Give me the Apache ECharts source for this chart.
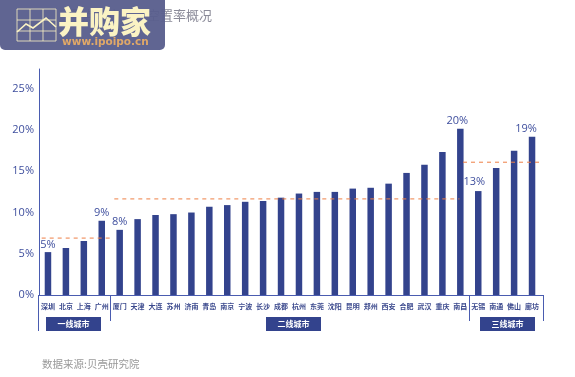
<!DOCTYPE html>
<html><head><meta charset="utf-8">
<style>html,body{margin:0;padding:0;background:#fff}#c{width:575px;height:377px}</style>
<script src="https://cdn.jsdelivr.net/npm/echarts@6/dist/echarts.min.js"></script>
</head><body><div id="c"></div>
<script>
const cities = ['深圳','北京','上海','广州','厦门','天津','大连','苏州','济南','青岛','南京','宁波','长沙','成都','杭州','东莞','沈阳','昆明','郑州','西安','合肥','武汉','重庆','南昌','无锡','南通','佛山','廊坊'];
const vacancy = [5.2,5.7,6.55,9.0,7.9,9.2,9.7,9.8,10.0,10.7,10.9,11.3,11.4,11.8,12.3,12.5,12.5,12.9,13.0,13.5,14.8,15.8,17.35,20.15,12.6,15.4,17.5,19.2];
const labelled = {0:'5%',3:'9%',4:'8%',23:'20%',24:'13%',27:'19%'};
const tierAvg1 = [[0.15,6.9],[4.1,6.9]];
const tierAvg2 = [[4.2,11.65],[23.45,11.65]];
const tierAvg3 = [[23.65,16.1],[28,16.1]];
const tierNames = ['一线城市','二线城市','三线城市'];
const titleText = '重点城市住宅空置率概况';
const sourceText = '数据来源:贝壳研究院';
const logoName = '并购家';
const logoUrl = 'www.ipoipo.cn';

const NAVY='#33438d', AXIS='#4a5cb0', CREAM='#fbf3c4';
const chart = echarts.init(document.getElementById('c'), null, {renderer:'canvas'});
const dash = (d,name)=>({type:'line',name,xAxisIndex:1,yAxisIndex:0,data:d,symbol:'none',silent:true,z:5,
  lineStyle:{color:'#ee7f45',width:1,type:[4,4]}});
const vline=(x,y1,y2)=>({type:'line',shape:{x1:x,y1,x2:x,y2},style:{stroke:AXIS,lineWidth:1}});
const tier=(x,t)=>({type:'group',children:[
  {type:'rect',shape:{x,y:317,width:55,height:14},style:{fill:NAVY}},
  {type:'text',style:{x:x+27.5,y:324,text:t,fill:'#fff',font:'bold 8px "Noto Sans CJK SC"',align:'center',verticalAlign:'middle'}}]});
const gridLines=[];
[[17,9,56,9],[17,41,56,41],[17,9,17,41],[56,9,56,41],[30,9,30,41],[43,9,43,41],[17,20,56,20],[17,31,56,31]].forEach(l=>
  gridLines.push({type:'line',shape:{x1:l[0],y1:l[1],x2:l[2],y2:l[3]},style:{stroke:CREAM,lineWidth:1,opacity:.8}}));
chart.setOption({
  animation:false,
  backgroundColor:'#fff',
  grid:{left:39,width:502,top:69,height:226},
  xAxis:[
    {type:'category',data:cities,axisTick:{show:false},
     axisLine:{lineStyle:{color:AXIS,width:1}},
     axisLabel:{interval:0,fontSize:7,fontWeight:'bold',color:'#3c4a8e',margin:8,fontFamily:'"Noto Sans CJK SC"'}},
    {type:'value',min:0,max:28,show:false}
  ],
  yAxis:{type:'value',min:0,max:27.4,interval:5,splitLine:{show:false},axisTick:{show:false},
    axisLine:{show:true,onZero:false,lineStyle:{color:AXIS,width:1}},
    axisLabel:{formatter:'{value}%',showMaxLabel:false,fontSize:11,color:'#3f4f9e',margin:5,padding:[0,0,4,0],fontFamily:'"Open Sans"'}},
  series:[
    {type:'bar',barWidth:6.5,itemStyle:{color:NAVY},
     data:vacancy.map((v,i)=>labelled[i]?{value:v,label:{show:true,position:'top',distance:i===24?4:2,offset:i===24?[-4,0]:(i===27?[-6,0]:(i===23?[-3,0]:[0,0])),
        formatter:labelled[i],fontSize:11,color:'#3f4f9e',fontFamily:'"Open Sans"'}}:v)},
    dash(tierAvg1,'一线均值'),dash(tierAvg2,'二线均值'),dash(tierAvg3,'三线均值')
  ],
  graphic:[
    {type:'text',z:1,style:{x:212,y:15,text:titleText,fill:'#8a8a98',font:'13px "Noto Sans CJK SC"',align:'right',verticalAlign:'middle'}},
    vline(38.5,295,331),vline(110.5,295,321),vline(469.5,295,321),vline(543.5,295,321),
    {type:'line',shape:{x1:38,y1:295.5,x2:544,y2:295.5},style:{stroke:AXIS,lineWidth:1}},
    tier(46,tierNames[0]),tier(266,tierNames[1]),tier(480,tierNames[2]),
    {type:'text',style:{x:42,y:364,text:sourceText,fill:'#999',font:'10.5px "Noto Sans CJK SC"',verticalAlign:'middle'}},
    {type:'group',z:10,children:[
      {type:'rect',z:10,shape:{x:0,y:-12,width:165,height:62,r:[0,12,5,5]},style:{fill:'#5a5f8e',opacity:.96}},
      ...gridLines.map(g=>({...g,z:11})),
      {type:'polyline',z:11,shape:{points:[[17,32],[26,24],[33,28],[46,18],[56,27]]},style:{stroke:CREAM,fill:null,lineWidth:1.6}},
      {type:'text',z:11,style:{x:58,y:21,text:logoName,fill:CREAM,font:'900 31px "Noto Sans CJK SC"',verticalAlign:'middle'}},
      {type:'text',z:11,style:{x:62,y:42,text:logoUrl,fill:'#e0a868',font:'bold 10.5px "DejaVu Sans"',verticalAlign:'middle'}}
    ]}
  ]
});
</script></body></html>
